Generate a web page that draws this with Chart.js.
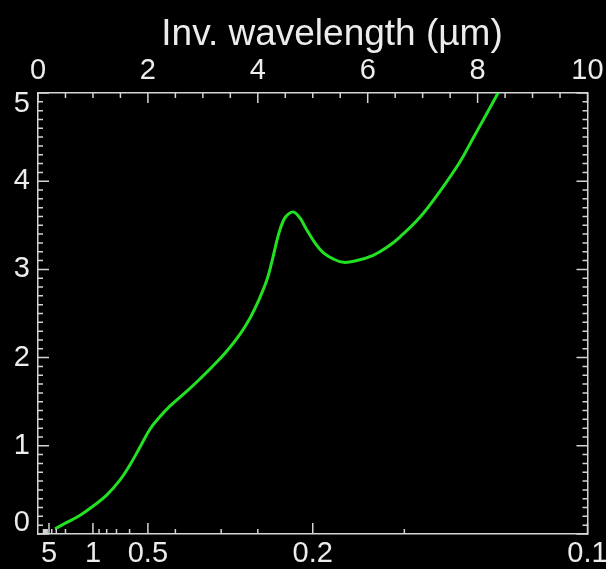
<!DOCTYPE html>
<html>
<head>
<meta charset="utf-8">
<script src="https://cdn.jsdelivr.net/npm/chart.js@4/dist/chart.umd.min.js"></script>
<style>
  html, body { margin: 0; padding: 0; background: #000; }
  #wrap { width: 606px; height: 569px; }
</style>
</head>
<body>
<div id="wrap"><canvas id="extChart"></canvas></div>
<script>
// curve: inverse wavelength (1/um) -> extinction
const invWave = [0.31, 0.49, 0.76, 1.01, 1.25, 1.49, 1.67, 1.86, 2.04, 2.19, 2.40, 2.71, 2.95,
                 3.13, 3.43, 3.68, 3.86, 4.01, 4.16, 4.25, 4.37, 4.47, 4.56, 4.66, 4.77, 4.89,
                 5.04, 5.19, 5.37, 5.56, 5.80, 6.10, 6.35, 6.59, 6.95, 7.32, 7.68, 7.92, 8.17, 8.38];
const extinction = [0.06, 0.12, 0.21, 0.32, 0.44, 0.61, 0.78, 0.99, 1.19, 1.31, 1.45, 1.62, 1.76,
                    1.87, 2.07, 2.27, 2.45, 2.64, 2.87, 3.07, 3.38, 3.56, 3.63, 3.65, 3.58, 3.45,
                    3.30, 3.19, 3.12, 3.08, 3.10, 3.16, 3.25, 3.37, 3.59, 3.89, 4.22, 4.49, 4.77, 5.01];

// top axis: inverse wavelength
const topTickValues = [0, 2, 4, 6, 8, 10];
// bottom axis: wavelength (um), placed at 1/lambda
const bottomTickLambda = [5, 1, 0.5, 0.2, 0.1];
const bottomTickLabels = ['5', '1', '0.5', '0.2', '0.1'];
const bottomMinorLambda = [10, 9, 8, 7, 6, 4, 3, 2, 0.9, 0.8, 0.7, 0.6, 0.4, 0.3, 0.25, 0.15];
// left axis
const yTickLabels = ['0', '1', '2', '3', '4', '5'];

const boxColor = '#d4d4d4';
const textColor = '#ececec';
const fontFamily = "'Liberation Sans', Arial, Helvetica, sans-serif";
const tickFont = { family: fontFamily, size: 29, lineHeight: 1.2 };

// pin the axis boxes so the plot frame lands where it is in the picture
function fixSize(prop, px) {
    return function (scale) {
        scale[prop] = px;
        scale.paddingLeft = 0;
        scale.paddingRight = 0;
        scale.paddingTop = 0;
        scale.paddingBottom = 0;
    };
}

// tick marks point into the plot, IDL style
const inwardTicks = {
    id: 'inwardTicks',
    afterDraw(chart) {
        const { ctx, chartArea: a, scales } = chart;
        const xs = scales.x, ys = scales.y;
        ctx.save();
        ctx.strokeStyle = boxColor;
        ctx.lineWidth = 1.5;
        ctx.beginPath();

        // bottom (wavelength)
        bottomTickLambda.forEach(l => {
            const px = xs.getPixelForValue(1 / l);
            ctx.moveTo(px, a.bottom); ctx.lineTo(px, a.bottom - 11);
        });
        bottomMinorLambda.forEach(l => {
            const px = xs.getPixelForValue(1 / l);
            ctx.moveTo(px, a.bottom); ctx.lineTo(px, a.bottom - 5);
        });

        // top (inverse wavelength), minor every 0.5
        for (let v = 0; v <= 10; v += 0.5) {
            const px = xs.getPixelForValue(v);
            const len = (v % 2 === 0) ? 10 : 5;
            ctx.moveTo(px, a.top); ctx.lineTo(px, a.top + len);
        }

        // left and right, minor every 0.1
        for (let i = 0; i <= 50; i++) {
            const py = ys.getPixelForValue(i / 10);
            const len = (i % 10 === 0) ? 11 : 5;
            ctx.moveTo(a.left, py); ctx.lineTo(a.left + len, py);
            ctx.moveTo(a.right, py); ctx.lineTo(a.right - len, py);
        }
        ctx.stroke();

        // axis title above the top axis
        ctx.fillStyle = textColor;
        ctx.font = '37px ' + fontFamily;
        ctx.textAlign = 'center';
        ctx.textBaseline = 'alphabetic';
        ctx.fillText('Inv. wavelength (\u00b5m)', 332, 45);
        ctx.restore();
    }
};

const ctx = document.getElementById('extChart').getContext('2d');
const chart = new Chart(ctx, {
    type: 'line',
    data: {
        datasets: [{
            label: 'extinction',
            data: invWave.map((x, i) => ({ x: x, y: extinction[i] })),
            borderColor: '#22e022',
            borderWidth: 3,
            pointRadius: 0,
            tension: 0.4,
            xAxisID: 'x',
            yAxisID: 'y'
        }]
    },
    options: {
        responsive: true,
        maintainAspectRatio: false,
        animation: false,
        layout: { padding: 0 },
        plugins: {
            legend: { display: false },
            tooltip: { enabled: false }
        },
        scales: {
            x: {
                type: 'linear',
                position: 'bottom',
                min: 0,
                max: 10,
                grid: { display: false, drawTicks: false },
                border: { color: boxColor, width: 1.5 },
                afterBuildTicks: scale => {
                    scale.ticks = bottomTickLambda.map(l => ({ value: 1 / l }));
                },
                ticks: {
                    color: textColor,
                    font: tickFont,
                    padding: 3,
                    autoSkip: false,
                    maxRotation: 0,
                    callback: (value, index) => bottomTickLabels[index]
                },
                afterFit: fixSize('height', 35)
            },
            x2: {
                type: 'linear',
                position: 'top',
                min: 0,
                max: 10,
                grid: { display: false, drawTicks: false },
                border: { color: boxColor, width: 1.5 },
                afterBuildTicks: scale => {
                    scale.ticks = topTickValues.map(v => ({ value: v }));
                },
                ticks: {
                    color: textColor,
                    font: tickFont,
                    padding: 5,
                    autoSkip: false,
                    maxRotation: 0
                },
                afterFit: fixSize('height', 93)
            },
            y: {
                type: 'linear',
                position: 'left',
                min: 0,
                max: 5,
                grid: { display: false, drawTicks: false },
                border: { color: boxColor, width: 1.5 },
                // end labels sit inside the frame, as in the picture
                afterBuildTicks: scale => {
                    scale.ticks = yTickLabels.map((t, i) => ({ value: Math.min(Math.max(i, 0.13), 4.87) }));
                },
                ticks: {
                    color: textColor,
                    font: tickFont,
                    padding: 8,
                    autoSkip: false,
                    callback: (value, index) => yTickLabels[index]
                },
                afterFit: fixSize('width', 38)
            },
            y2: {
                type: 'linear',
                position: 'right',
                min: 0,
                max: 5,
                grid: { display: false, drawTicks: false },
                border: { color: boxColor, width: 1.5 },
                ticks: { display: false },
                afterFit: fixSize('width', 18.5)
            }
        }
    },
    plugins: [inwardTicks]
});
</script>
</body>
</html>
